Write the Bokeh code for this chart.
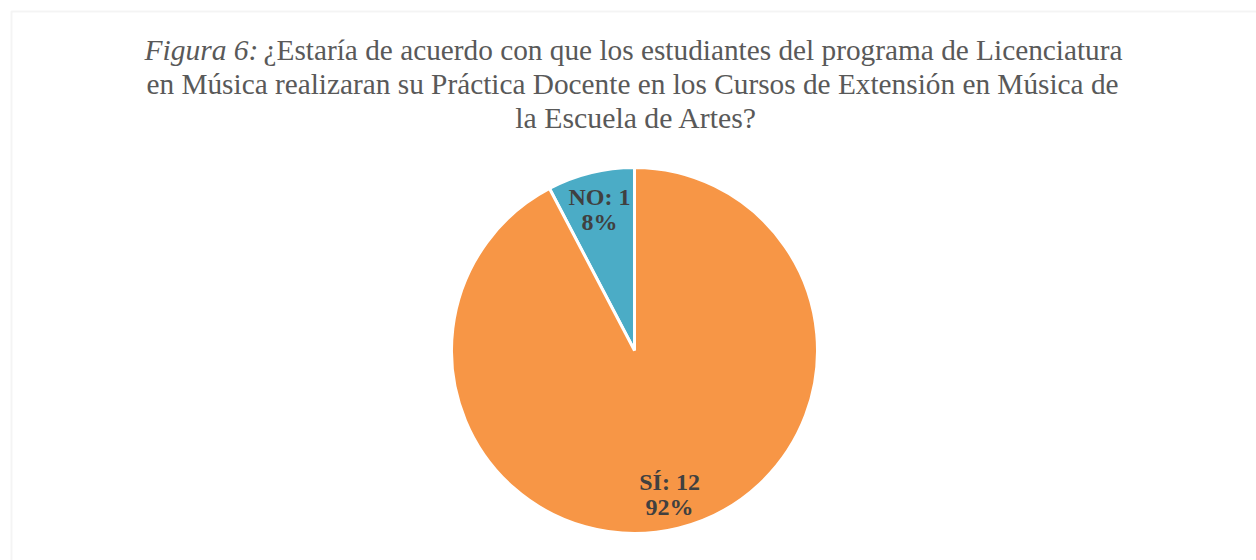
import math
from bokeh.plotting import figure
from bokeh.models import ColumnDataSource, BoxAnnotation, Range1d
from bokeh.core.properties import value
from bokeh.embed import file_html
from bokeh.resources import INLINE

# ---- data ----
categories = ["NO", "SÍ"]
counts = [1, 12]
colors = ["#4BACC6", "#F79646"]
title_italic = "Figura 6:"
title_lines = [
    "¿Estaría de acuerdo con que los estudiantes del programa de Licenciatura",
    "en Música realizaran su Práctica Docente en los Cursos de Extensión en Música de",
    "la Escuela de Artes?",
]

W, H = 1256, 560
p = figure(width=W, height=H, output_backend="svg", toolbar_location=None,
           x_range=Range1d(0, W), y_range=Range1d(0, H), min_border=0,
           outline_line_color=None, background_fill_color="white",
           border_fill_color="white")
p.xaxis.visible = False
p.yaxis.visible = False
p.grid.visible = False

def px(x):
    return x

def py(y):
    return H - y

# border of chart area
p.add_layout(BoxAnnotation(left=px(11), top=py(11), right=W + 50, bottom=-50,
                           fill_alpha=0, line_color="#D9D9D9", line_width=2))

# pie
cx, cy, R = px(634), py(350), 183
total = sum(counts)
starts, ends, mids = [], [], []
a = math.pi / 2
for c in counts:
    s = a
    e = a + 2 * math.pi * c / total
    starts.append(s)
    ends.append(e)
    mids.append((s + e) / 2)
    a = e

src = ColumnDataSource(dict(start=starts, end=ends, color=colors,
                            x=[cx] * len(counts), y=[cy] * len(counts)))
p.wedge(x="x", y="y", radius=R, start_angle="start", end_angle="end",
        fill_color="color", line_color="white", line_width=3, source=src)

# labels
lab_r = 0.80 * R
lx = [cx + lab_r * math.cos(m) for m in mids]
ly = [cy + lab_r * math.sin(m) for m in mids]
pct = [f"{round(100 * c / total)}%" for c in counts]
l1 = [f"{cat}: {c}" for cat, c in zip(categories, counts)]
lsrc = ColumnDataSource(dict(x=lx, y=ly, t1=l1, t2=pct))
common = dict(text_font=value("Liberation Serif"), text_font_style="bold",
              text_font_size="24px", text_color="#404040", text_align="center",
              text_baseline="alphabetic")
p.text(x="x", y="y", text="t1", source=lsrc, y_offset=-11, **common)
p.text(x="x", y="y", text="t2", source=lsrc, y_offset=14, **common)

# title
tcommon = dict(text_font=value("Liberation Serif"),
               text_color="#595959", text_baseline="alphabetic")
p.text(x=[px(144)], y=[py(49)], text=[title_italic], text_align="left",
       text_font_style="italic", text_font_size="29.5px", **tcommon)
p.text(x=[px(263)], y=[py(49)], text=[title_lines[0]], text_align="left",
       text_font_size="29.3px", **tcommon)
p.text(x=[px(632)], y=[py(83)], text=[title_lines[1]], text_align="center",
       text_font_size="29.3px", **tcommon)
p.text(x=[px(636)], y=[py(117)], text=[title_lines[2]], text_align="center",
       text_font_size="29.8px", **tcommon)

open("out.html", "w").write(file_html(p, INLINE))
